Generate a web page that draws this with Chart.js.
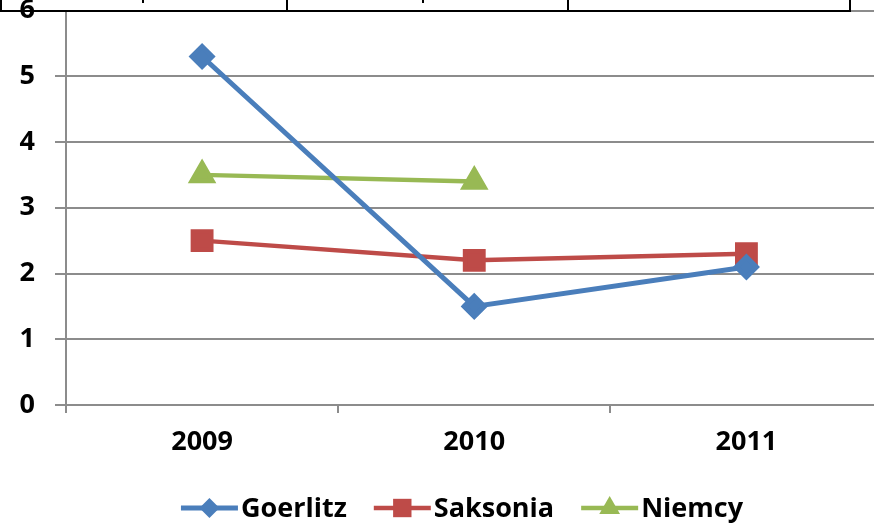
<!DOCTYPE html>
<html>
<head>
<meta charset="utf-8">
<script src="https://cdn.jsdelivr.net/npm/chart.js@4.4.1/dist/chart.umd.min.js"></script>
<style>
  html, body { margin: 0; padding: 0; background: #fff; overflow: hidden; }
  #wrap { position: relative; width: 874px; height: 524px; overflow: hidden; }
  #chart { position: absolute; left: 0; top: -7px; }
</style>
</head>
<body>
<div id="wrap"><canvas id="chart" width="900" height="531"></canvas></div>
<script>
// dane
const years = ['2009', '2010', '2011'];
const goerlitz = [5.3, 1.5, 2.1];
const saksonia = [2.5, 2.2, 2.3];
const niemcy = [3.5, 3.4, null];
const yTicks = [0, 1, 2, 3, 4, 5, 6];

const FONT = '"Open Sans", "Liberation Sans", sans-serif';
const GRID = '#8c8c8c';
const SHIFT = 7; // canvas przesuniety w gore, zeby "6" bylo uciete jak w oryginale

// legenda rysowana recznie: linia + znacznik jak w Excelu
const legendPlugin = {
    id: 'excelLegend',
    afterDraw(chart) {
        const ctx = chart.ctx;
        const y = 508 + SHIFT;
        const symW = 57, gap = 3, itemGap = 27;
        ctx.save();
        ctx.font = 'bold 27px ' + FONT;
        const items = chart.data.datasets.map(ds => ({
            ds, w: symW + gap + ctx.measureText(ds.label).width
        }));
        const total = items.reduce((s, it) => s + it.w, 0) + itemGap * (items.length - 1);
        let x = 462 - total / 2;
        items.forEach(it => {
            const ds = it.ds;
            ctx.strokeStyle = ds.borderColor;
            ctx.lineWidth = ds.borderWidth;
            ctx.beginPath();
            ctx.moveTo(x, y);
            ctx.lineTo(x + symW, y);
            ctx.stroke();
            ctx.fillStyle = ds.backgroundColor;
            ctx.beginPath();
            drawMarker(ctx, ds.pointStyle, ds.pointRadius, x + symW / 2, y);
            ctx.fill();
            ctx.fillStyle = '#000';
            ctx.textBaseline = 'middle';
            ctx.textAlign = 'left';
            ctx.fillText(ds.label, x + symW + gap, y + 1);
            x += it.w + itemGap;
        });
        ctx.restore();
    }
};

function drawMarker(ctx, style, r, x, y) {
    if (style === 'rectRot') {
        ctx.moveTo(x, y - r); ctx.lineTo(x + r, y); ctx.lineTo(x, y + r); ctx.lineTo(x - r, y);
    } else if (style === 'rect') {
        const s = r / Math.SQRT2;
        ctx.rect(x - s, y - s, 2 * s, 2 * s);
    } else {
        const h = r * 1.5, half = r * Math.sqrt(3) / 2;
        ctx.moveTo(x, y - r); ctx.lineTo(x + half, y + h - r); ctx.lineTo(x - half, y + h - r);
    }
    ctx.closePath();
}

// kawalek tabeli nad wykresem (uciety w zrzucie)
const tablePlugin = {
    id: 'tableStrip',
    afterDraw(chart) {
        const ctx = chart.ctx;
        ctx.save();
        ctx.fillStyle = '#000';
        ctx.fillRect(0, 10 + SHIFT, 851, 2);
        [0, 286, 567, 849].forEach(vx => ctx.fillRect(vx, 0, 2, 11 + SHIFT));
        ctx.fillRect(142, SHIFT, 2, 3);
        ctx.fillRect(422, SHIFT, 2, 3);
        ctx.restore();
    }
};

new Chart(document.getElementById('chart'), {
    type: 'line',
    data: {
        labels: years,
        datasets: [
            { label: 'Goerlitz', data: goerlitz, borderColor: '#4a7ebb', backgroundColor: '#4a7ebb',
              borderWidth: 5, pointStyle: 'rectRot', pointRadius: 10 },
            { label: 'Saksonia', data: saksonia, borderColor: '#be4b48', backgroundColor: '#be4b48',
              borderWidth: 4.5, pointStyle: 'rect', pointRadius: 13 },
            { label: 'Niemcy', data: niemcy, borderColor: '#98b954', backgroundColor: '#98b954',
              borderWidth: 4.5, pointStyle: 'triangle', pointRadius: 12 }
        ]
    },
    options: {
        responsive: false,
        animation: false,
        events: [],
        layout: { padding: { top: 3, right: 12, left: 0, bottom: 0 } },
        elements: {
            line: { tension: 0 },
            point: { borderWidth: 0, hoverRadius: 0 }
        },
        plugins: { legend: { display: false }, tooltip: { enabled: false } },
        scales: {
            x: {
                offset: true,
                grid: { offset: true, drawOnChartArea: false, drawTicks: true, tickLength: 8,
                        color: GRID, lineWidth: 2 },
                border: { color: GRID, width: 2 },
                ticks: { color: '#000', font: { family: FONT, size: 27, weight: 'bold' }, padding: 13,
                         maxRotation: 0 },
                afterFit(s) { s.height = 119; s.paddingLeft = 0; s.paddingRight = 0; }
            },
            y: {
                min: 0, max: 6,
                afterBuildTicks(s) { s.ticks = yTicks.map(v => ({ value: v })); },
                grid: { color: GRID, lineWidth: 2, tickLength: 11 },
                border: { color: GRID, width: 2 },
                ticks: { color: '#000', font: { family: FONT, size: 27, weight: 'bold' }, padding: 20 },
                afterFit(s) { s.width = 66; s.paddingTop = 0; s.paddingBottom = 0; }
            }
        }
    },
    plugins: [tablePlugin, legendPlugin]
});
</script>
</body>
</html>
